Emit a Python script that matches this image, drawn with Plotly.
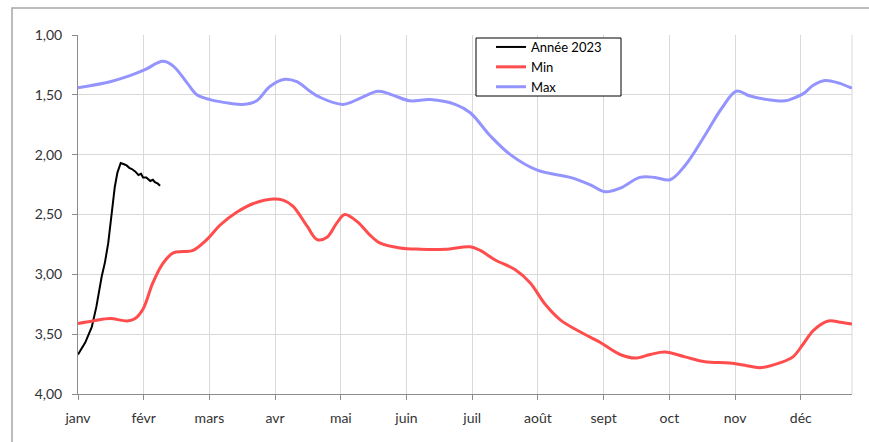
import plotly.graph_objects as go

# x positions are expressed in months (0 = janv, 1 = févr, ...)
months = ["janv", "févr", "mars", "avr", "mai", "juin", "juil", "août", "sept", "oct", "nov", "déc"]
month_pos = list(range(12))

annee_x = [0, 0.11, 0.21, 0.28, 0.36, 0.41, 0.46, 0.51, 0.56, 0.60, 0.65, 0.70, 0.74, 0.78, 0.82, 0.87, 0.92, 0.96, 0.99, 1.04, 1.10, 1.14, 1.17, 1.21, 1.25]
annee_y = [3.67, 3.57, 3.44, 3.27, 3.02, 2.90, 2.74, 2.52, 2.27, 2.15, 2.07, 2.08, 2.09, 2.11, 2.12, 2.14, 2.17, 2.16, 2.19, 2.19, 2.22, 2.21, 2.23, 2.24, 2.26]

min_x = [0, 0.23, 0.49, 0.75, 0.87, 0.99, 1.14, 1.29, 1.45, 1.60, 1.75, 1.96, 2.16, 2.42, 2.66, 2.97, 3.12, 3.27,
         3.49, 3.64, 3.79, 3.94, 4.06, 4.25, 4.44, 4.60, 4.90, 5.21, 5.59, 5.97, 6.12, 6.35, 6.65, 6.88, 7.11,
         7.34, 7.64, 7.95, 8.25, 8.48, 8.71, 8.93, 9.24, 9.54, 9.92, 10.15, 10.38, 10.68, 10.88, 11.04, 11.19,
         11.42, 11.60, 11.78]
min_y = [3.41, 3.39, 3.37, 3.39, 3.37, 3.29, 3.07, 2.91, 2.82, 2.81, 2.80, 2.71, 2.59, 2.48, 2.41, 2.37, 2.38, 2.43,
         2.60, 2.71, 2.69, 2.57, 2.50, 2.56, 2.67, 2.74, 2.78, 2.79, 2.79, 2.77, 2.80, 2.88, 2.96, 3.07, 3.25,
         3.38, 3.48, 3.57, 3.67, 3.70, 3.67, 3.65, 3.69, 3.73, 3.74, 3.76, 3.78, 3.74, 3.69, 3.58, 3.47,
         3.39, 3.40, 3.415]

max_x = [0, 0.49, 0.79, 1.02, 1.29, 1.45, 1.66, 1.81, 2.01, 2.31, 2.51, 2.72, 2.92, 3.15, 3.33, 3.53, 3.68, 4.03,
         4.29, 4.57, 4.78, 5.05, 5.36, 5.74, 5.97, 6.27, 6.58, 6.99, 7.49, 7.79, 8.02, 8.25, 8.55, 8.78, 9.01,
         9.24, 9.54, 9.80, 10.02, 10.23, 10.50, 10.76, 10.88, 11.04, 11.19, 11.37, 11.57, 11.78]
max_y = [1.44, 1.39, 1.34, 1.29, 1.22, 1.26, 1.40, 1.50, 1.54, 1.57, 1.58, 1.55, 1.43, 1.37, 1.39, 1.47, 1.52, 1.58,
         1.53, 1.47, 1.50, 1.55, 1.54, 1.58, 1.65, 1.84, 2.00, 2.13, 2.19, 2.25, 2.31, 2.28, 2.19, 2.19, 2.21,
         2.09, 1.84, 1.61, 1.47, 1.51, 1.54, 1.55, 1.53, 1.49, 1.42, 1.38, 1.40, 1.445]

y_ticks = [1.0, 1.5, 2.0, 2.5, 3.0, 3.5, 4.0]

FONT = "Lato"
GRID = "#d9d9d9"
AXIS = "#8c8c8c"
TICKC = "#333333"

fig = go.Figure()
fig.add_trace(go.Scatter(x=annee_x, y=annee_y, mode="lines", name="Année 2023",
                         line=dict(color="#000000", width=2)))
fig.add_trace(go.Scatter(x=min_x, y=min_y, mode="lines", name="Min",
                         line=dict(color="#ff4d4d", width=3, shape="spline", smoothing=1)))
fig.add_trace(go.Scatter(x=max_x, y=max_y, mode="lines", name="Max",
                         line=dict(color="#9494ff", width=3, shape="spline", smoothing=1)))

W, H = 869, 442
L, R, T, B = 78, 17, 35, 48
pw, ph = W - L - R, H - T - B

def px(x):
    return (x - L) / pw

def py(y):
    return (H - B - y) / ph

fig.update_layout(
    width=W, height=H,
    margin=dict(l=L, r=R, t=T, b=B, pad=0),
    paper_bgcolor="white", plot_bgcolor="white",
    separators=", ",
    font=dict(family=FONT, size=14, color=TICKC),
    showlegend=True,
    legend=dict(x=px(491), y=py(32), xanchor="left", yanchor="top",
                bgcolor="rgba(0,0,0,0)", borderwidth=0,
                font=dict(family=FONT, size=13, color="#000000"),
                tracegroupgap=0, itemwidth=30),
    xaxis=dict(range=[0, 11.78], tickmode="array", tickvals=month_pos, ticktext=months,
               showgrid=True, gridcolor=GRID, gridwidth=1,
               showline=True, linecolor=AXIS, linewidth=1,
               ticks="outside", ticklen=5, tickcolor=AXIS, zeroline=False,
               ticklabelstandoff=6,
               tickfont=dict(family=FONT, size=14, color=TICKC)),
    yaxis=dict(range=[4, 1], tickmode="array", tickvals=y_ticks, tickformat=".2f",
               showgrid=True, gridcolor=GRID, gridwidth=1,
               showline=True, linecolor=AXIS, linewidth=1,
               ticks="outside", ticklen=5, tickcolor=AXIS, zeroline=False,
               ticklabelstandoff=7,
               tickfont=dict(family=FONT, size=14, color=TICKC)),
    shapes=[
        dict(type="line", xref="paper", yref="paper", x0=1, x1=1, y0=0, y1=1,
             line=dict(color=GRID, width=1), layer="below"),
        dict(type="rect", xref="paper", yref="paper", x0=px(476), x1=px(621), y0=py(38), y1=py(96),
             line=dict(color="#000000", width=1), fillcolor="white", layer="above"),
        dict(type="rect", xref="paper", yref="paper", x0=px(12), x1=px(880), y0=py(8), y1=py(460),
             line=dict(color="#a6a6a6", width=1.5), fillcolor="rgba(0,0,0,0)"),
    ],
)

fig.write_html("out.html", config={"displayModeBar": False},
               post_script="document.body.style.margin='0';document.body.style.overflow='hidden';")
